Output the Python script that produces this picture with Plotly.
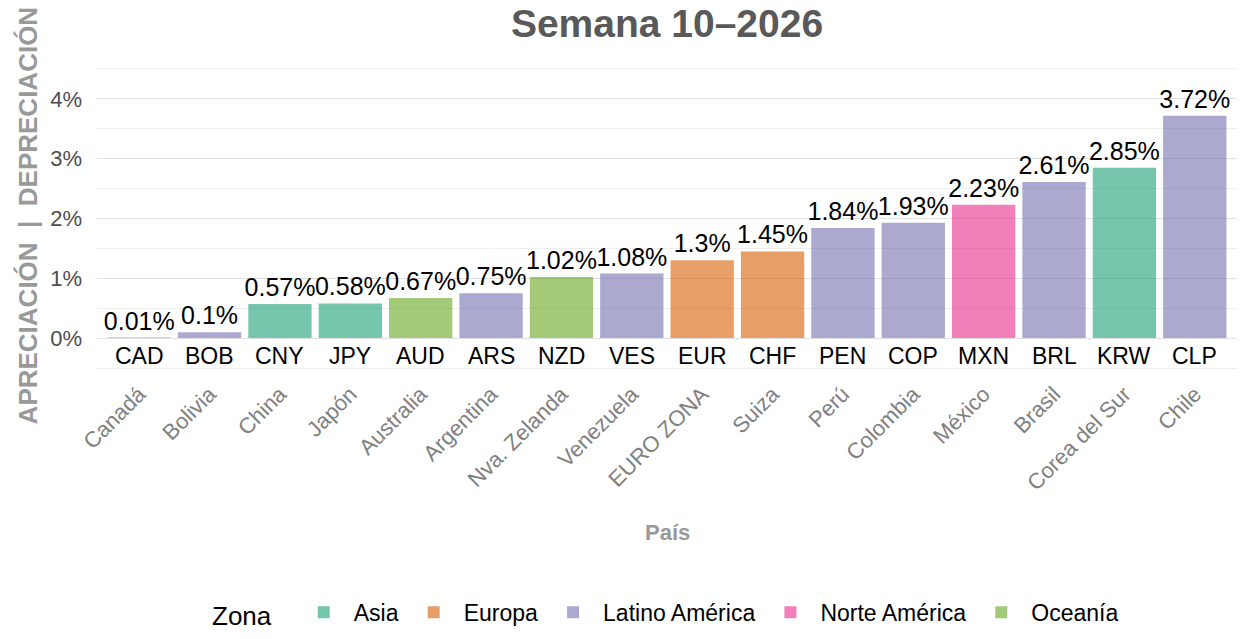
import plotly.graph_objects as go

codes = ["CAD", "BOB", "CNY", "JPY", "AUD", "ARS", "NZD", "VES", "EUR", "CHF",
         "PEN", "COP", "MXN", "BRL", "KRW", "CLP"]
countries = ["Canadá", "Bolivia", "China", "Japón", "Australia", "Argentina",
             "Nva. Zelanda", "Venezuela", "EURO ZONA", "Suiza", "Perú", "Colombia",
             "México", "Brasil", "Corea del Sur", "Chile"]
values = [0.01, 0.1, 0.57, 0.58, 0.67, 0.75, 1.02, 1.08, 1.3, 1.45,
          1.84, 1.93, 2.23, 2.61, 2.85, 3.72]
zones = ["Norte América", "Latino América", "Asia", "Asia", "Oceanía", "Latino América",
         "Oceanía", "Latino América", "Europa", "Europa", "Latino América", "Latino América",
         "Norte América", "Latino América", "Asia", "Latino América"]
zone_order = ["Asia", "Europa", "Latino América", "Norte América", "Oceanía"]
zone_colors = {
    "Asia": "rgba(27,158,119,0.6)",
    "Europa": "rgba(217,95,2,0.6)",
    "Latino América": "rgba(117,112,179,0.6)",
    "Norte América": "rgba(231,41,138,0.6)",
    "Oceanía": "rgba(102,166,30,0.6)",
}
y_tick_vals = [0, 1, 2, 3, 4]
y_tick_text = ["0%", "1%", "2%", "3%", "4%"]

FONT = "Liberation Sans, Arial, sans-serif"

fig = go.Figure()
for z in zone_order:
    xs = [c for c, zz in zip(countries, zones) if zz == z]
    ys = [v for v, zz in zip(values, zones) if zz == z]
    fig.add_trace(go.Bar(
        x=xs, y=ys, name=z, width=0.9,
        marker=dict(color=zone_colors[z], line=dict(width=0)),
        text=[f"{v:g}%" for v in ys], textposition="outside",
        textfont=dict(size=25, color="black", family=FONT),
        constraintext="none", cliponaxis=False,
    ))

for c, code in zip(countries, codes):
    fig.add_annotation(x=c, y=0, text=code, showarrow=False, yanchor="middle",
                       yshift=-18, font=dict(size=23, color="black", family=FONT))

fig.add_annotation(xref="paper", yref="paper", x=0.5, y=-0.51, yanchor="middle",
                   text="<b>País</b>", showarrow=False,
                   font=dict(size=22, color="#999999", family=FONT))
fig.add_annotation(xref="paper", yref="paper", x=0, xshift=-69, xanchor="center",
                   y=0.51, yanchor="middle",
                   text="<b>APRECIACIÓN  |  DEPRECIACIÓN</b>", textangle=-90,
                   showarrow=False, font=dict(size=26, color="#999999", family=FONT))

fig.update_layout(
    width=1242, height=639,
    margin=dict(l=97, r=5, t=63, b=262),
    paper_bgcolor="white", plot_bgcolor="white",
    barmode="overlay",
    font=dict(family=FONT),
    title=dict(text="<b>Semana 10–2026</b>", x=0.5, xref="paper", xanchor="center",
               y=1 - 23 / 639, yref="container", yanchor="middle",
               font=dict(size=39, color="#595959", family=FONT)),
    xaxis=dict(type="category", categoryorder="array", categoryarray=countries,
               range=[-0.6, 15.6], tickangle=-45, showgrid=False, zeroline=False,
               showline=False, ticks="", ticklabelstandoff=2,
               tickfont=dict(size=22, color="#808080", family=FONT)),
    yaxis=dict(range=[-0.6, 4.6], tickvals=y_tick_vals, ticktext=y_tick_text,
               showgrid=True, gridcolor="#e0e0e0", gridwidth=1.4, zeroline=False,
               showline=False, ticks="", ticklabelstandoff=14,
               minor=dict(dtick=0.5, tick0=0, showgrid=True, gridcolor="#eeeeee", gridwidth=1),
               tickfont=dict(size=22, color="#4d4d4d", family=FONT)),
    legend=dict(orientation="h", x=0.5, xanchor="center", y=-0.768, yanchor="middle",
                valign="middle",
                title=dict(text="Zona  ", side="left",
                           font=dict(size=26, color="black", family=FONT)),
                font=dict(size=23, color="black", family=FONT),
                itemwidth=50, traceorder="normal"),
    showlegend=True,
)

fig.write_html("out.html")
